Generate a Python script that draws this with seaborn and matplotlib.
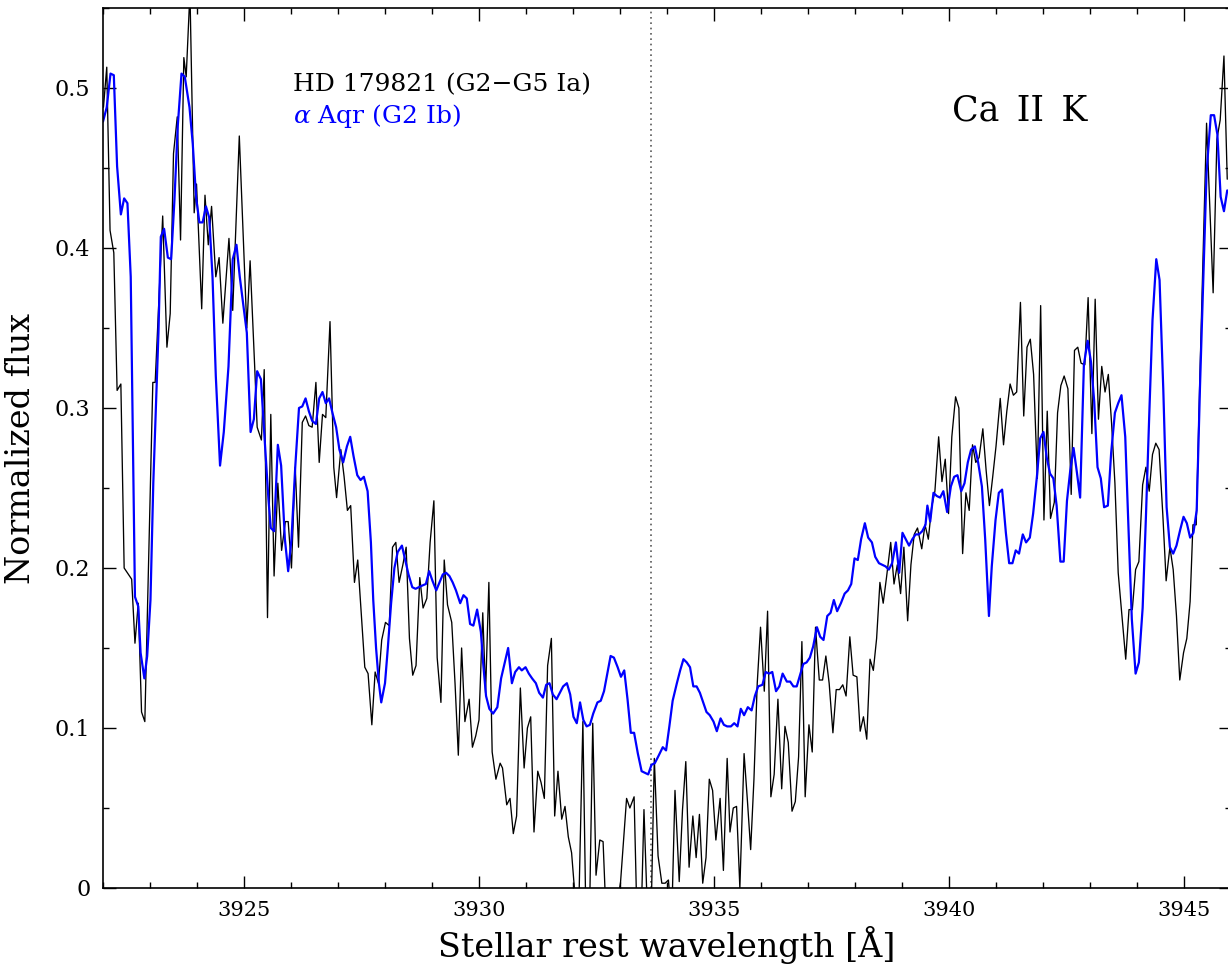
import numpy as np
import pandas as pd
import matplotlib
matplotlib.use("Agg")
import matplotlib.pyplot as plt
from matplotlib.ticker import MultipleLocator, FixedLocator, FuncFormatter
import seaborn as sns

# HD 179821 spectrum around Ca II K (wavelength in Angstrom, normalized flux)
hd_wave = [
    3922.01, 3922.08, 3922.15, 3922.23, 3922.30, 3922.38, 3922.45, 3922.61, 3922.68, 3922.75,
    3922.82, 3922.89, 3923.06, 3923.11, 3923.27, 3923.36, 3923.43, 3923.50, 3923.58, 3923.65,
    3923.72, 3923.77, 3923.85, 3923.94, 3923.99, 3924.10, 3924.17, 3924.24, 3924.31, 3924.40,
    3924.47, 3924.55, 3924.68, 3924.76, 3924.90, 3925.06, 3925.13, 3925.23, 3925.28, 3925.37,
    3925.43, 3925.50, 3925.57, 3925.64, 3925.72, 3925.80, 3925.88, 3925.94, 3926.01, 3926.09,
    3926.16, 3926.24, 3926.31, 3926.38, 3926.45, 3926.53, 3926.60, 3926.67, 3926.74, 3926.83,
    3926.91, 3926.97, 3927.06, 3927.13, 3927.20, 3927.27, 3927.35, 3927.42, 3927.49, 3927.57,
    3927.64, 3927.72, 3927.79, 3927.86, 3927.93, 3928.01, 3928.09, 3928.16, 3928.23, 3928.30,
    3928.38, 3928.45, 3928.52, 3928.59, 3928.66, 3928.74, 3928.81, 3928.89, 3928.96, 3929.04,
    3929.11, 3929.19, 3929.26, 3929.33, 3929.42, 3929.49, 3929.56, 3929.63, 3929.70, 3929.79,
    3929.86, 3929.93, 3930.00, 3930.08, 3930.14, 3930.21, 3930.28, 3930.36, 3930.45, 3930.50,
    3930.59, 3930.66, 3930.73, 3930.80, 3930.88, 3930.96, 3931.03, 3931.10, 3931.17, 3931.25,
    3931.32, 3931.39, 3931.46, 3931.54, 3931.61, 3931.68, 3931.76, 3931.83, 3931.90, 3931.97,
    3932.03, 3932.11, 3932.21, 3932.28, 3932.35, 3932.42, 3932.49, 3932.57, 3932.64, 3932.72,
    3932.87, 3933.01, 3933.14, 3933.21, 3933.30, 3933.37, 3933.45, 3933.51, 3933.60, 3933.66,
    3933.73, 3933.81, 3933.89, 3933.96, 3934.03, 3934.10, 3934.17, 3934.26, 3934.33, 3934.40,
    3934.47, 3934.55, 3934.62, 3934.69, 3934.76, 3934.83, 3934.90, 3934.97, 3935.04, 3935.13,
    3935.20, 3935.28, 3935.34, 3935.41, 3935.48, 3935.55, 3935.64, 3935.71, 3935.78, 3935.85,
    3935.92, 3935.99, 3936.07, 3936.14, 3936.21, 3936.28, 3936.36, 3936.44, 3936.51, 3936.58,
    3936.66, 3936.73, 3936.80, 3936.87, 3936.94, 3937.02, 3937.09, 3937.16, 3937.24, 3937.31,
    3937.38, 3937.45, 3937.53, 3937.60, 3937.67, 3937.74, 3937.81, 3937.89, 3937.96, 3938.04,
    3938.11, 3938.18, 3938.25, 3938.32, 3938.39, 3938.46, 3938.53, 3938.60, 3938.67, 3938.76,
    3938.83, 3938.90, 3938.97, 3939.04, 3939.12, 3939.19, 3939.26, 3939.33, 3939.42, 3939.49,
    3939.56, 3939.63, 3939.70, 3939.78, 3939.85, 3939.92, 3939.99, 3940.06, 3940.14, 3940.21,
    3940.29, 3940.36, 3940.43, 3940.50, 3940.57, 3940.64, 3940.72, 3940.79, 3940.86, 3940.93,
    3941.00, 3941.09, 3941.16, 3941.23, 3941.30, 3941.37, 3941.44, 3941.52, 3941.59, 3941.66,
    3941.73, 3941.80, 3941.88, 3941.95, 3942.02, 3942.09, 3942.16, 3942.24, 3942.31, 3942.38,
    3942.45, 3942.53, 3942.60, 3942.67, 3942.74, 3942.81, 3942.89, 3942.96, 3943.04, 3943.11,
    3943.18, 3943.25, 3943.32, 3943.39, 3943.46, 3943.53, 3943.60, 3943.68, 3943.76, 3943.83,
    3943.90, 3943.97, 3944.04, 3944.12, 3944.19, 3944.26, 3944.33, 3944.40, 3944.47, 3944.55,
    3944.62, 3944.70, 3944.77, 3944.84, 3944.91, 3944.99, 3945.06, 3945.13, 3945.19, 3945.26,
    3945.34, 3945.48, 3945.62, 3945.70, 3945.77, 3945.85, 3945.92,
]
hd_flux = [
    0.488, 0.513, 0.411, 0.397, 0.311, 0.315, 0.200, 0.193, 0.153, 0.178,
    0.110, 0.104, 0.316, 0.316, 0.420, 0.338, 0.359, 0.459, 0.482, 0.405,
    0.519, 0.507, 0.560, 0.422, 0.440, 0.362, 0.433, 0.402, 0.426, 0.382,
    0.394, 0.353, 0.406, 0.361, 0.470, 0.350, 0.392, 0.324, 0.288, 0.280,
    0.324, 0.169, 0.296, 0.195, 0.253, 0.211, 0.229, 0.229, 0.200, 0.263,
    0.213, 0.291, 0.295, 0.289, 0.288, 0.316, 0.266, 0.296, 0.294, 0.354,
    0.263, 0.244, 0.274, 0.257, 0.236, 0.239, 0.191, 0.205, 0.174, 0.138,
    0.134, 0.102, 0.135, 0.128, 0.155, 0.166, 0.164, 0.213, 0.216, 0.191,
    0.202, 0.213, 0.156, 0.133, 0.139, 0.194, 0.175, 0.181, 0.216, 0.242,
    0.144, 0.116, 0.205, 0.177, 0.166, 0.128, 0.083, 0.150, 0.104, 0.118,
    0.088, 0.095, 0.105, 0.172, 0.122, 0.191, 0.085, 0.068, 0.078, 0.075,
    0.052, 0.056, 0.034, 0.045, 0.125, 0.075, 0.100, 0.107, 0.035, 0.073,
    0.066, 0.056, 0.139, 0.156, 0.045, 0.073, 0.043, 0.051, 0.032, 0.022,
    0.000, -0.030, 0.104, -0.030, -0.020, 0.103, 0.008, 0.030, 0.029, -0.030,
    -0.020, 0.003, 0.056, 0.050, 0.057, -0.030, -0.020, 0.049, -0.030, -0.020,
    0.081, 0.020, 0.003, 0.003, 0.005, -0.020, 0.061, 0.004, 0.049, 0.079,
    0.013, 0.045, 0.019, 0.046, 0.003, 0.019, 0.068, 0.061, 0.030, 0.056,
    0.011, 0.081, 0.035, 0.050, 0.051, 0.000, 0.084, 0.055, 0.024, 0.068,
    0.128, 0.163, 0.123, 0.173, 0.057, 0.071, 0.118, 0.062, 0.101, 0.091,
    0.048, 0.054, 0.082, 0.154, 0.057, 0.102, 0.085, 0.163, 0.130, 0.130,
    0.145, 0.128, 0.097, 0.124, 0.124, 0.127, 0.120, 0.157, 0.133, 0.132,
    0.098, 0.107, 0.093, 0.143, 0.136, 0.156, 0.191, 0.178, 0.194, 0.216,
    0.190, 0.202, 0.184, 0.213, 0.167, 0.202, 0.221, 0.225, 0.212, 0.227,
    0.218, 0.238, 0.248, 0.282, 0.254, 0.268, 0.234, 0.282, 0.307, 0.300,
    0.209, 0.247, 0.236, 0.277, 0.266, 0.269, 0.287, 0.261, 0.239, 0.257,
    0.276, 0.306, 0.277, 0.298, 0.315, 0.308, 0.310, 0.366, 0.295, 0.338,
    0.343, 0.321, 0.256, 0.364, 0.230, 0.298, 0.231, 0.241, 0.297, 0.314,
    0.320, 0.312, 0.246, 0.336, 0.338, 0.328, 0.327, 0.369, 0.284, 0.368,
    0.293, 0.326, 0.310, 0.321, 0.290, 0.253, 0.197, 0.170, 0.143, 0.174,
    0.174, 0.199, 0.204, 0.252, 0.263, 0.248, 0.271, 0.278, 0.274, 0.233,
    0.192, 0.213, 0.199, 0.170, 0.130, 0.147, 0.156, 0.179, 0.227, 0.227,
    0.322, 0.478, 0.372, 0.468, 0.480, 0.520, 0.443,
]

# alpha Aqr spectrum on the same wavelength scale
aqr_wave = [
    3922.00, 3922.08, 3922.16, 3922.23, 3922.30, 3922.38, 3922.45, 3922.52, 3922.59, 3922.68,
    3922.75, 3922.80, 3922.88, 3922.94, 3923.01, 3923.07, 3923.13, 3923.18, 3923.23, 3923.30,
    3923.38, 3923.45, 3923.52, 3923.59, 3923.67, 3923.74, 3923.84, 3923.91, 3923.98, 3924.05,
    3924.12, 3924.19, 3924.26, 3924.33, 3924.40, 3924.49, 3924.57, 3924.67, 3924.76, 3924.84,
    3924.91, 3925.06, 3925.14, 3925.21, 3925.28, 3925.36, 3925.41, 3925.52, 3925.57, 3925.64,
    3925.72, 3925.79, 3925.87, 3925.94, 3926.01, 3926.09, 3926.17, 3926.24, 3926.31, 3926.38,
    3926.45, 3926.53, 3926.60, 3926.67, 3926.74, 3926.81, 3926.89, 3926.96, 3927.03, 3927.11,
    3927.19, 3927.26, 3927.33, 3927.41, 3927.48, 3927.55, 3927.63, 3927.70, 3927.75, 3927.81,
    3927.87, 3927.92, 3928.00, 3928.06, 3928.13, 3928.20, 3928.27, 3928.36, 3928.43, 3928.50,
    3928.58, 3928.65, 3928.72, 3928.79, 3928.87, 3928.94, 3929.01, 3929.09, 3929.16, 3929.23,
    3929.30, 3929.37, 3929.44, 3929.51, 3929.60, 3929.67, 3929.74, 3929.81, 3929.88, 3929.96,
    3930.04, 3930.09, 3930.15, 3930.22, 3930.30, 3930.39, 3930.47, 3930.55, 3930.62, 3930.70,
    3930.77, 3930.85, 3930.91, 3930.99, 3931.06, 3931.13, 3931.21, 3931.28, 3931.36, 3931.43,
    3931.50, 3931.57, 3931.65, 3931.72, 3931.79, 3931.87, 3931.94, 3932.01, 3932.08, 3932.15,
    3932.22, 3932.29, 3932.36, 3932.43, 3932.52, 3932.59, 3932.66, 3932.73, 3932.80, 3932.87,
    3932.95, 3933.02, 3933.09, 3933.16, 3933.23, 3933.30, 3933.38, 3933.46, 3933.53, 3933.60,
    3933.67, 3933.74, 3933.81, 3933.91, 3933.98, 3934.05, 3934.12, 3934.21, 3934.28, 3934.35,
    3934.42, 3934.49, 3934.56, 3934.63, 3934.70, 3934.77, 3934.84, 3934.91, 3934.99, 3935.06,
    3935.14, 3935.21, 3935.28, 3935.36, 3935.43, 3935.50, 3935.57, 3935.64, 3935.72, 3935.80,
    3935.87, 3935.94, 3936.03, 3936.10, 3936.17, 3936.24, 3936.32, 3936.39, 3936.46, 3936.55,
    3936.62, 3936.69, 3936.76, 3936.83, 3936.90, 3936.97, 3937.04, 3937.11, 3937.19, 3937.26,
    3937.33, 3937.41, 3937.48, 3937.55, 3937.62, 3937.70, 3937.78, 3937.85, 3937.92, 3937.99,
    3938.06, 3938.13, 3938.21, 3938.28, 3938.36, 3938.43, 3938.51, 3938.58, 3938.65, 3938.72,
    3938.79, 3938.87, 3938.94, 3939.01, 3939.08, 3939.15, 3939.22, 3939.29, 3939.36, 3939.43,
    3939.50, 3939.54, 3939.60, 3939.67, 3939.74, 3939.81, 3939.88, 3939.96, 3940.04, 3940.11,
    3940.18, 3940.26, 3940.33, 3940.40, 3940.47, 3940.55, 3940.62, 3940.70, 3940.77, 3940.85,
    3940.91, 3940.99, 3941.06, 3941.13, 3941.21, 3941.28, 3941.35, 3941.42, 3941.49, 3941.57,
    3941.64, 3941.72, 3941.79, 3941.87, 3941.94, 3942.01, 3942.08, 3942.15, 3942.22, 3942.29,
    3942.37, 3942.44, 3942.51, 3942.58, 3942.65, 3942.72, 3942.79, 3942.87, 3942.95, 3943.02,
    3943.09, 3943.16, 3943.23, 3943.30, 3943.38, 3943.45, 3943.53, 3943.60, 3943.67, 3943.75,
    3943.82, 3943.89, 3943.97, 3944.04, 3944.12, 3944.19, 3944.26, 3944.33, 3944.41, 3944.48,
    3944.56, 3944.63, 3944.70, 3944.77, 3944.84, 3944.92, 3944.99, 3945.06, 3945.13, 3945.20,
    3945.27, 3945.34, 3945.43, 3945.48, 3945.57, 3945.64, 3945.71, 3945.78, 3945.85, 3945.92,
]
aqr_flux = [
    0.479, 0.488, 0.509, 0.508, 0.451, 0.421, 0.431, 0.428, 0.382, 0.182,
    0.176, 0.147, 0.131, 0.145, 0.180, 0.253, 0.305, 0.347, 0.407, 0.412,
    0.394, 0.393, 0.430, 0.476, 0.509, 0.507, 0.488, 0.465, 0.432, 0.416,
    0.416, 0.426, 0.419, 0.382, 0.320, 0.264, 0.285, 0.326, 0.393, 0.402,
    0.382, 0.347, 0.285, 0.293, 0.323, 0.318, 0.294, 0.243, 0.225, 0.223,
    0.277, 0.264, 0.218, 0.198, 0.218, 0.263, 0.300, 0.301, 0.306, 0.298,
    0.292, 0.290, 0.306, 0.310, 0.303, 0.306, 0.296, 0.288, 0.274, 0.266,
    0.276, 0.282, 0.270, 0.258, 0.255, 0.257, 0.248, 0.216, 0.180, 0.150,
    0.128, 0.116, 0.128, 0.150, 0.178, 0.200, 0.210, 0.214, 0.205, 0.196,
    0.188, 0.187, 0.188, 0.189, 0.190, 0.198, 0.192, 0.186, 0.191, 0.196,
    0.197, 0.195, 0.191, 0.186, 0.178, 0.183, 0.181, 0.165, 0.164, 0.174,
    0.160, 0.140, 0.120, 0.112, 0.109, 0.113, 0.131, 0.141, 0.150, 0.128,
    0.135, 0.138, 0.136, 0.138, 0.134, 0.131, 0.128, 0.122, 0.119, 0.127,
    0.128, 0.121, 0.118, 0.122, 0.126, 0.128, 0.121, 0.107, 0.103, 0.116,
    0.105, 0.101, 0.102, 0.109, 0.116, 0.117, 0.123, 0.134, 0.145, 0.144,
    0.138, 0.132, 0.136, 0.118, 0.097, 0.097, 0.084, 0.073, 0.072, 0.071,
    0.077, 0.078, 0.082, 0.088, 0.086, 0.101, 0.117, 0.128, 0.136, 0.143,
    0.141, 0.138, 0.126, 0.126, 0.122, 0.116, 0.110, 0.108, 0.104, 0.098,
    0.106, 0.102, 0.101, 0.101, 0.103, 0.101, 0.112, 0.108, 0.113, 0.111,
    0.120, 0.126, 0.127, 0.135, 0.134, 0.135, 0.123, 0.126, 0.134, 0.129,
    0.129, 0.126, 0.126, 0.133, 0.140, 0.141, 0.144, 0.151, 0.163, 0.157,
    0.155, 0.170, 0.172, 0.180, 0.173, 0.178, 0.184, 0.186, 0.190, 0.206,
    0.205, 0.218, 0.228, 0.219, 0.216, 0.207, 0.203, 0.202, 0.201, 0.199,
    0.203, 0.216, 0.197, 0.222, 0.218, 0.214, 0.218, 0.221, 0.221, 0.223,
    0.227, 0.239, 0.229, 0.247, 0.245, 0.244, 0.248, 0.235, 0.251, 0.257,
    0.258, 0.248, 0.253, 0.266, 0.274, 0.276, 0.266, 0.251, 0.218, 0.170,
    0.201, 0.230, 0.247, 0.249, 0.222, 0.203, 0.203, 0.211, 0.209, 0.221,
    0.216, 0.219, 0.234, 0.257, 0.281, 0.285, 0.269, 0.259, 0.256, 0.239,
    0.204, 0.204, 0.242, 0.261, 0.275, 0.260, 0.244, 0.327, 0.342, 0.329,
    0.304, 0.263, 0.256, 0.238, 0.239, 0.272, 0.297, 0.303, 0.308, 0.282,
    0.224, 0.168, 0.134, 0.141, 0.175, 0.232, 0.295, 0.355, 0.393, 0.380,
    0.311, 0.238, 0.213, 0.209, 0.214, 0.224, 0.232, 0.228, 0.219, 0.222,
    0.236, 0.313, 0.399, 0.447, 0.483, 0.483, 0.471, 0.432, 0.423, 0.436,
]

ca_k_center = 3933.66
x_ticks = [3925, 3930, 3935, 3940, 3945]
y_ticks = [0, 0.1, 0.2, 0.3, 0.4, 0.5]

sns.set_theme(style="ticks")
plt.rcParams["font.family"] = ["DejaVu Serif"]
plt.rcParams["mathtext.fontset"] = "dejavuserif"
for key in ("text.color", "axes.labelcolor", "xtick.color", "ytick.color", "axes.edgecolor"):
    plt.rcParams[key] = "black"

fig = plt.figure(figsize=(12.28, 9.67), dpi=100)
ax = fig.add_axes([103 / 1228, 79 / 967, 1128 / 1228, 880 / 967])

hd = pd.DataFrame({"wave": hd_wave, "flux": hd_flux})
aqr = pd.DataFrame({"wave": aqr_wave, "flux": aqr_flux})

sns.lineplot(data=hd, x="wave", y="flux", ax=ax, color="black", lw=0.95,
             estimator=None, sort=False)
sns.lineplot(data=aqr, x="wave", y="flux", ax=ax, color="#0000ff", lw=1.6,
             estimator=None, sort=False)

ax.axvline(ca_k_center, color="0.35", lw=1.2, ls=(0, (1, 2.2)), zorder=0)

ax.set_xlim(3922, 3946)
ax.set_ylim(0, 0.55)

ax.xaxis.set_major_locator(FixedLocator(x_ticks))
ax.xaxis.set_minor_locator(MultipleLocator(1))
ax.yaxis.set_major_locator(FixedLocator(y_ticks))
ax.yaxis.set_minor_locator(MultipleLocator(0.05))
ax.yaxis.set_major_formatter(FuncFormatter(lambda v, p: "0" if abs(v) < 1e-9 else f"{v:.1f}"))
ax.xaxis.set_major_formatter(FuncFormatter(lambda v, p: f"{v:.0f}"))

ax.tick_params(which="both", direction="in", top=True, right=True, color="black")
ax.tick_params(which="major", length=9, width=1.0, labelsize=15, pad=9)
ax.tick_params(axis="y", which="major", labelsize=16)
ax.tick_params(which="minor", length=4.5, width=1.0)
for s in ax.spines.values():
    s.set_linewidth(1.2)
    s.set_color("black")

ax.set_xlabel("Stellar rest wavelength [Å]", fontsize=24, labelpad=5)
ax.set_ylabel("Normalized flux", fontsize=24, labelpad=13)

ax.text(0.168, 0.906, "HD 179821 (G2−G5 Ia)", transform=ax.transAxes,
        fontsize=18, color="black", ha="left", va="baseline")
ax.text(0.168, 0.869, r"$\alpha$ Aqr (G2 Ib)", transform=ax.transAxes,
        fontsize=18, color="#0000ff", ha="left", va="baseline")
ax.text(0.753, 0.872, "Ca\u2002II\u2002K", transform=ax.transAxes,
        fontsize=25, color="black", ha="left", va="baseline")

fig.savefig("out.png", dpi=100)
